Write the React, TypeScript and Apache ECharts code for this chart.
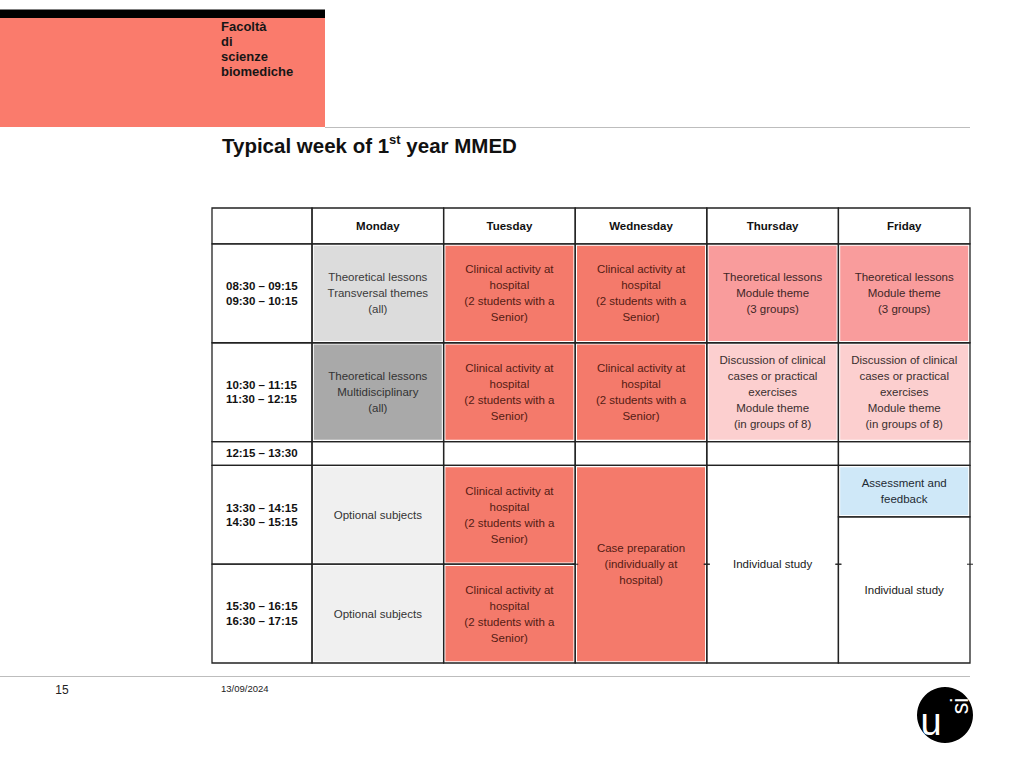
import React, { useEffect, useRef } from "react";
import * as echarts from "echarts";

// ---- data ----
const days = ["Monday", "Tuesday", "Wednesday", "Thursday", "Friday"];
const slotLabels = [
  "08:30 – 09:15\n09:30 – 10:15",
  "10:30 – 11:15\n11:30 – 12:15",
  "12:15 – 13:30",
  "13:30 – 14:15\n14:30 – 15:15",
  "15:30 – 16:15\n16:30 – 17:15",
];
const CLIN = "Clinical activity at\nhospital\n(2 students with a\nSenior)";
// [dayIndex, fromSlot, toSlot, text, kind]
const activities: [number, number, number, string, string][] = [
  [0, 0, 1, "Theoretical lessons\nTransversal themes\n(all)", "transversal"],
  [0, 1, 2, "Theoretical lessons\nMultidisciplinary\n(all)", "multi"],
  [0, 2, 3, "", "none"],
  [0, 3, 4, "Optional subjects", "optional"],
  [0, 4, 5, "Optional subjects", "optional"],
  [1, 0, 1, CLIN, "clinical"],
  [1, 1, 2, CLIN, "clinical"],
  [1, 2, 3, "", "none"],
  [1, 3, 4, CLIN, "clinical"],
  [1, 4, 5, CLIN, "clinical"],
  [2, 0, 1, CLIN, "clinical"],
  [2, 1, 2, CLIN, "clinical"],
  [2, 2, 3, "", "none"],
  [2, 3, 5, "Case preparation\n(individually at\nhospital)", "clinical"],
  [3, 0, 1, "Theoretical lessons\nModule theme\n(3 groups)", "module"],
  [3, 1, 2, "Discussion of clinical\ncases or practical\nexercises\nModule theme\n(in groups of 8)", "discussion"],
  [3, 2, 3, "", "none"],
  [3, 3, 5, "Individual study", "none"],
  [4, 0, 1, "Theoretical lessons\nModule theme\n(3 groups)", "module"],
  [4, 1, 2, "Discussion of clinical\ncases or practical\nexercises\nModule theme\n(in groups of 8)", "discussion"],
  [4, 2, 3, "", "none"],
  [4, 3, 3.52, "Assessment and\nfeedback", "assessment"],
  [4, 3.52, 5, "Individual study", "none"],
];

// ---- layout / styles ----
const TIME_W = 0.76;
const HEADER_H = 0.364;
const LUNCH_H = 0.242;
const FONT = "'Liberation Sans', Arial, Helvetica, sans-serif";
const LINE = "#222";

const KIND_STYLE: Record<string, { fill: string | null; text: string }> = {
  none: { fill: null, text: "#1a1a1a" },
  header: { fill: null, text: "#111" },
  time: { fill: null, text: "#111" },
  transversal: { fill: "#dcdcdc", text: "#3a3a3a" },
  multi: { fill: "#a9a9a9", text: "#333" },
  optional: { fill: "#f0f0f0", text: "#333" },
  clinical: { fill: "#f47a6b", text: "#551c14" },
  module: { fill: "#f99c9c", text: "#3e2626" },
  discussion: { fill: "#fccfcf", text: "#3a2e2e" },
  assessment: { fill: "#cfe8f8", text: "#1e2a33" },
};

function yOf(s: number) {
  if (s <= 2) return s;
  if (s <= 3) return 2 + (s - 2) * LUNCH_H;
  return 2 + LUNCH_H + (s - 3);
}

type Cell = { x0: number; x1: number; y0: number; y1: number; text: string; kind: string; from?: number; to?: number };

function buildCells(): Cell[] {
  const cells: Cell[] = [];
  cells.push({ x0: -TIME_W, x1: 0, y0: -HEADER_H, y1: 0, text: "", kind: "header" });
  days.forEach((d, i) => cells.push({ x0: i, x1: i + 1, y0: -HEADER_H, y1: 0, text: d, kind: "header" }));
  slotLabels.forEach((s, i) => cells.push({ x0: -TIME_W, x1: 0, y0: yOf(i), y1: yOf(i + 1), text: s, kind: "time" }));
  activities.forEach(([d, f, t, text, kind]) =>
    cells.push({ x0: d, x1: d + 1, y0: yOf(f), y1: yOf(t), text, kind, from: f, to: t })
  );
  return cells;
}

export default function App() {
  const ref = useRef<HTMLDivElement>(null);
  useEffect(() => {
    document.body.style.margin = "0";
    if (!ref.current) return;
    const chart = echarts.init(ref.current, undefined, { renderer: "svg" });
    const cells = buildCells();

    const renderItem = (params: any, api: any) => {
      const c = cells[params.dataIndex];
      const p0 = api.coord([api.value(0), api.value(2)]);
      const p1 = api.coord([api.value(1), api.value(3)]);
      const x = p0[0], y = p0[1], w = p1[0] - p0[0], h = p1[1] - p0[1];
      const st = KIND_STYLE[c.kind];
      const children: any[] = [];
      if (st.fill) {
        const ins = 1.8;
        children.push({ type: "rect", shape: { x: x + ins, y: y + ins, width: w - 2 * ins, height: h - 2 * ins }, style: { fill: st.fill } });
      }
      children.push({ type: "rect", shape: { x, y, width: w, height: h }, style: { fill: "none", stroke: LINE, lineWidth: 1.3 } });
      // ticks on merged cells where a slot boundary is crossed
      if (c.from !== undefined && c.to !== undefined) {
        for (let b = Math.floor(c.from) + 1; b < c.to; b++) {
          if (b === 3) continue;
          const yb = api.coord([0, yOf(b)])[1];
          children.push({ type: "line", shape: { x1: x - 3, y1: yb, x2: x + 3, y2: yb }, style: { stroke: LINE, lineWidth: 1 } });
          children.push({ type: "line", shape: { x1: x + w - 3, y1: yb, x2: x + w + 3, y2: yb }, style: { stroke: LINE, lineWidth: 1 } });
        }
      }
      if (c.text) {
        const isTime = c.kind === "time";
        const bold = c.kind === "header" || isTime;
        children.push({
          type: "text",
          style: {
            text: c.text,
            x: isTime ? x + 14 : x + w / 2,
            y: y + h / 2,
            align: isTime ? "left" : "center",
            verticalAlign: "middle",
            font: `${bold ? "bold " : ""}11.5px ${FONT}`,
            lineHeight: isTime ? 14.5 : 16,
            fill: st.text,
          },
        });
      }
      return { type: "group", children };
    };

    const option: any = {
      animation: false,
      backgroundColor: "#fff",
      grid: { left: 212, top: 208, width: 758, height: 455 },
      xAxis: { type: "value", min: -TIME_W, max: 5, show: false },
      yAxis: { type: "value", min: -HEADER_H, max: 2 + LUNCH_H + 2, inverse: true, show: false },
      series: [
        {
          type: "custom",
          renderItem,
          clip: false,
          encode: { x: [0, 1], y: [2, 3] },
          data: cells.map((c) => [c.x0, c.x1, c.y0, c.y1]),
        },
      ],
      graphic: [
        { type: "rect", shape: { x: 0, y: 18, width: 325, height: 109 }, style: { fill: "#fa7b6c" } },
        { type: "rect", shape: { x: 0, y: 9.5, width: 325, height: 8.5 }, style: { fill: "#000" } },
        {
          type: "text",
          x: 221,
          y: 19,
          style: { text: "Facoltà\ndi\nscienze\nbiomediche", font: `bold 13px ${FONT}`, lineHeight: 15, fill: "#161616", verticalAlign: "top" },
        },
        { type: "line", shape: { x1: 325, y1: 127.5, x2: 970, y2: 127.5 }, style: { stroke: "#bdbdbd", lineWidth: 1 } },
        {
          type: "text",
          x: 222,
          y: 145,
          style: {
            text: "{b|Typical week of 1}{s|st}{b| year MMED}",
            verticalAlign: "middle",
            rich: {
              b: { font: `bold 20.5px ${FONT}`, fill: "#111", lineHeight: 24 },
              s: { font: `bold 13px ${FONT}`, fill: "#111", lineHeight: 13, verticalAlign: "top" },
            },
          },
        },
        { type: "line", shape: { x1: 0, y1: 676.5, x2: 970, y2: 676.5 }, style: { stroke: "#bdbdbd", lineWidth: 1 } },
        { type: "text", x: 62, y: 690, style: { text: "15", font: `12px ${FONT}`, fill: "#222", align: "center", verticalAlign: "middle" } },
        { type: "text", x: 221, y: 688, style: { text: "13/09/2024", font: `9.5px ${FONT}`, fill: "#222", verticalAlign: "middle" } },
        { type: "circle", shape: { cx: 945, cy: 715, r: 28 }, style: { fill: "#000" } },
        { type: "text", x: 931, y: 722, style: { text: "u", font: `38px ${FONT}`, fill: "#fff", align: "center", verticalAlign: "middle" } },
        { type: "text", x: 960, y: 706, rotation: Math.PI / 2, style: { text: "si", font: `23px ${FONT}`, fill: "#fff", align: "center", verticalAlign: "middle" } },
      ],
    };
    chart.setOption(option);
    return () => chart.dispose();
  }, []);
  return <div ref={ref} style={{ width: 1024, height: 768 }} />;
}
